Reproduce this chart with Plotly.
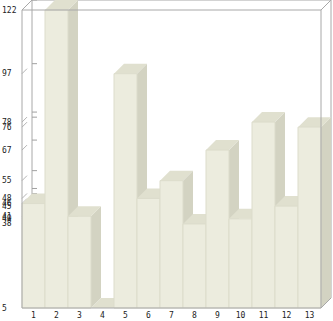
import plotly.graph_objects as go

categories = ["1", "2", "3", "4", "5", "6", "7", "8", "9", "10", "11", "12", "13"]
values = [46, 122, 41, 5, 97, 48, 55, 38, 67, 40, 78, 45, 76]
y_min, y_max = 5, 122
tick_values = sorted(set(values))
tick_labels = [str(v) for v in tick_values]

W, H = 333, 321
ml, mr, mt, mb = 21, 1, 0, 12
pw, ph = W - ml - mr, H - mt - mb
front_left_px = 22
n = len(categories)
ppu_x = 23.0
depth_px = 10.0
dx = depth_px / ppu_x
front_bottom_px = 308 - mt
front_top_px = 10 - mt
ppu_y = (front_bottom_px - front_top_px) / (y_max - y_min)
dy = depth_px / ppu_y

x0 = 0.5 - (front_left_px - ml) / ppu_x
xr = [x0, x0 + pw / ppu_x]
yr = [y_min - (ph - front_bottom_px) / ppu_y, y_min + front_bottom_px / ppu_y]

FRONT = "#ECECDE"
TOP = "#E0E0CF"
SIDE = "#D3D3C2"
EDGE = "#DCDCCB"
FRAME = "#A8A8A8"

fig = go.Figure()

def poly(xs, ys, fill, line=None, width=0):
    fig.add_trace(go.Scatter(x=xs + [xs[0]], y=ys + [ys[0]], mode="lines", fill="toself",
                             fillcolor=fill, line=dict(color=line or fill, width=width if line else 0),
                             hoverinfo="skip", showlegend=False))

def seg(xs, ys, color=FRAME, width=1):
    fig.add_trace(go.Scatter(x=xs, y=ys, mode="lines", line=dict(color=color, width=width),
                             hoverinfo="skip", showlegend=False))

xl, xrgt = 0.5, n + 0.5
# back frame lines
seg([xl + dx, xl + dx], [y_min + dy, y_max + dy])
seg([xl + dx, xrgt + dx], [y_max + dy, y_max + dy])
seg([xrgt + dx, xrgt + dx], [y_min + dy, y_max + dy])
# back wall ticks and side wall slashes
for v in tick_values:
    seg([xl + dx, xl + dx + 5 / ppu_x], [v + dy, v + dy], color="#A0A0A0")
    seg([xl, xl + dx * 0.5], [v, v + dy * 0.5], color="#B4B4B4")

# bars
for i, v in enumerate(values):
    c = i + 1
    a, b = c - 0.5, c + 0.5
    poly([b, b + dx, b + dx, b], [y_min, y_min + dy, v + dy, v], SIDE)
    poly([a, b, b + dx, a + dx], [v, v, v + dy, v + dy], TOP)
    if v > y_min:
        poly([a, b, b, a], [y_min, y_min, v, v], FRONT, line=EDGE, width=1)

# front frame lines
seg([xl, xl], [y_min, y_max])
seg([xl, xrgt], [y_max, y_max])
seg([xl, xrgt], [y_min, y_min])
seg([xrgt, xrgt], [y_min, y_max])
seg([xl, xl + dx], [y_max, y_max + dy])
seg([xrgt, xrgt + dx], [y_max, y_max + dy])
seg([xrgt, xrgt + dx], [y_min, y_min + dy])

for v, t in zip(tick_values, tick_labels):
    fig.add_annotation(x=-ml / pw, xref="paper", xanchor="left", y=v, yref="y", yanchor="middle",
                       text=t, showarrow=False, font=dict(family="DejaVu Sans Mono", size=8, color="#222222"))

fig.update_layout(
    width=W, height=H, margin=dict(l=ml, r=mr, t=mt, b=mb, pad=0),
    plot_bgcolor="white", paper_bgcolor="white", showlegend=False,
    xaxis=dict(range=xr, tickvals=list(range(1, n + 1)), ticktext=categories, showgrid=False,
               zeroline=False, showline=False, ticks="", automargin=False,
               tickfont=dict(family="DejaVu Sans Mono", size=8, color="#222222")),
    yaxis=dict(range=yr, showgrid=False, zeroline=False, showline=False, showticklabels=False,
               ticks="", automargin=False),
)
fig.write_html("out.html")
